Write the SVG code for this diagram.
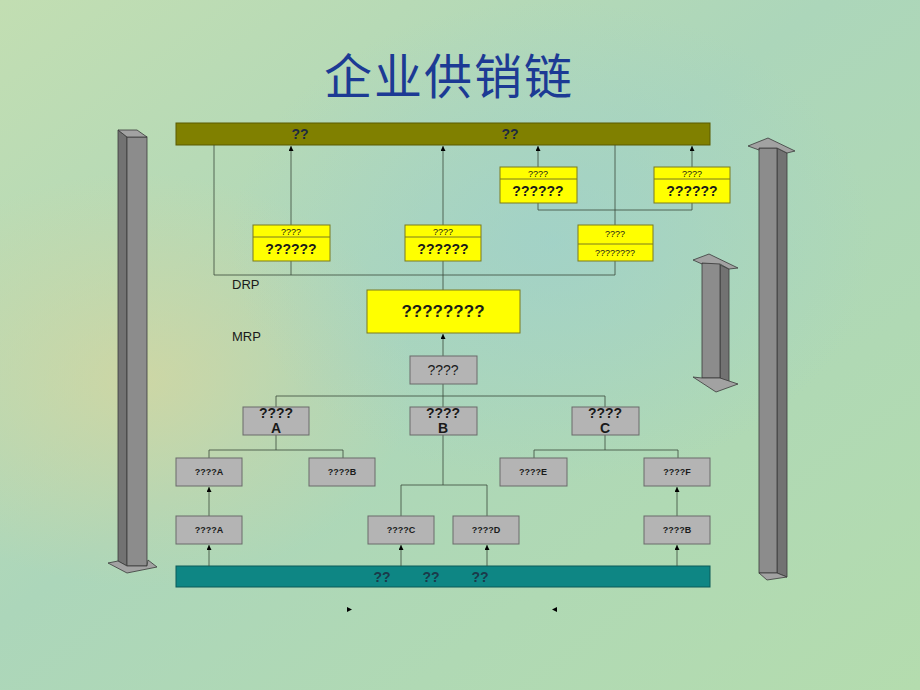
<svg xmlns="http://www.w3.org/2000/svg" width="920" height="690" viewBox="0 0 920 690">
<defs>
<linearGradient id="bg" x1="0" y1="0" x2="1" y2="1">
<stop offset="0" stop-color="#c2deb2"/>
<stop offset="0.45" stop-color="#acd6ba"/>
<stop offset="1" stop-color="#b4dcae"/>
</linearGradient>
<radialGradient id="y1" cx="0.15" cy="0.55" r="0.3">
<stop offset="0" stop-color="#d4d6a0" stop-opacity="0.8"/>
<stop offset="1" stop-color="#d4d6a0" stop-opacity="0"/>
</radialGradient>
<radialGradient id="b1" cx="0.6" cy="0.35" r="0.35">
<stop offset="0" stop-color="#9ccfcf" stop-opacity="0.6"/>
<stop offset="1" stop-color="#9ccfcf" stop-opacity="0"/>
</radialGradient>
<marker id="ah" markerWidth="5" markerHeight="5" refX="5" refY="2.5" orient="auto" markerUnits="userSpaceOnUse" viewBox="0 0 5 5">
<path d="M0,0 L5,2.5 L0,5 Z" fill="#000"/>
</marker>
<style>
.ln{stroke:#3a4a3a;stroke-width:0.8;fill:none}
.ar{stroke:#3a4a3a;stroke-width:0.8;fill:none}
.yb{fill:#ffff00;stroke:#7a7a20;stroke-width:1}
.gb{fill:#b4b4b4;stroke:#6a6a6a;stroke-width:1}
.t{font-family:"Liberation Sans",Arial,sans-serif;font-weight:bold;fill:#1a1a1a;text-anchor:middle}
.s9{font-size:9px}
.s13{font-size:14px}
.s17{font-size:17px}
.cf{fill:#8c8c8c;stroke:#3a3a3a;stroke-width:0.8}
.cs{fill:#727272;stroke:#3a3a3a;stroke-width:0.8}
.cc{fill:#a2a2a2;stroke:#3a3a3a;stroke-width:0.8}
</style>
</defs>
<rect width="920" height="690" fill="url(#bg)"/>
<rect width="920" height="690" fill="url(#y1)"/>
<rect width="920" height="690" fill="url(#b1)"/>

<text x="449" y="94" font-family="'Noto Sans CJK SC',sans-serif" font-size="48" font-weight="400" fill="#1c3a94" text-anchor="middle" letter-spacing="2">企业供销链</text>

<g id="col-left">
<polygon class="cs" points="118,130 127,137 127,566 118,561"/>
<rect class="cf" x="127" y="137" width="20" height="429"/>
<polygon class="cc" points="118,130 137,130 147,137 127,137"/>
<polygon class="cc" points="108,563 118,561 127,566 147,566 148,560 157,567 127,573"/>
</g>
<g id="col-right">
<polygon class="cs" points="777,148 787,153 787,577 777,573"/>
<rect class="cf" x="759" y="148" width="18" height="425"/>
<polygon class="cc" points="748,146 768,138 795,151 787,153 777,148 759,148 759,150"/>
<polygon class="cc" points="759,573 777,573 787,577 767,580"/>
</g>
<g id="col-mid">
<polygon class="cs" points="720,265 729,269 729,382 720,378"/>
<rect class="cf" x="702" y="263" width="18" height="115"/>
<polygon class="cc" points="693,260 709,254 738,268 729,269 720,264 702,263 702,264"/>
<polygon class="cc" points="693,377 702,378 720,378 729,381 738,384 716,392"/>
</g>

<g id="bar-top">
<rect x="176" y="123" width="534" height="22" fill="#808000" stroke="#5a5a00"/>
<text class="t s13" x="300" y="139" style="fill:#1e2a40">??</text>
<text class="t s13" x="510" y="139" style="fill:#1e2a40">??</text>
</g>
<g id="bar-bottom">
<rect x="176" y="566" width="534" height="21" fill="#0e8684" stroke="#0a5a58"/>
<text class="t s13" x="382" y="582" style="fill:#1a3a4a">??</text>
<text class="t s13" x="431" y="582" style="fill:#1a3a4a">??</text>
<text class="t s13" x="480" y="582" style="fill:#1a3a4a">??</text>
</g>

<g id="connectors">
<path class="ln" d="M214,145 V275 H615"/>
<path class="ln" d="M291,275 V261 M443,261 V290 M615,275 V261"/>
<path class="ar" d="M291,225 V146" marker-end="url(#ah)"/>
<path class="ar" d="M443,225 V146" marker-end="url(#ah)"/>
<path class="ln" d="M615,225 V145"/>
<path class="ar" d="M538,167 V146" marker-end="url(#ah)"/>
<path class="ar" d="M692,167 V146" marker-end="url(#ah)"/>
<path class="ln" d="M538,203 V210 H692 V203"/>
<path class="ar" d="M443,356 V334" marker-end="url(#ah)"/>
<path class="ln" d="M443,384 V396 M276,407 V396 H605 V407 M443,396 V407"/>
<path class="ln" d="M276,435 V450 M209,458 V450 H343 V458"/>
<path class="ln" d="M443,435 V485 M401,516 V485 H487 V516"/>
<path class="ln" d="M605,435 V450 M534,458 V450 H678 V458"/>
<path class="ar" d="M209,516 V487" marker-end="url(#ah)"/>
<path class="ar" d="M677,516 V487" marker-end="url(#ah)"/>
<path class="ar" d="M209,566 V545" marker-end="url(#ah)"/>
<path class="ar" d="M401,566 V545" marker-end="url(#ah)"/>
<path class="ar" d="M487,566 V545" marker-end="url(#ah)"/>
<path class="ar" d="M677,566 V545" marker-end="url(#ah)"/>
<path d="M347,607 L352,609.5 L347,612 Z" fill="#000"/>
<path d="M557,607 L552,609.5 L557,612 Z" fill="#000"/>
</g>

<g id="n-ur1">
<rect class="yb" x="500" y="167" width="77" height="36"/>
<line x1="500" y1="179" x2="577" y2="179" stroke="#7a7a20"/>
<text class="t s9" x="538" y="177" style="font-weight:normal">????</text>
<text class="t s13" x="538" y="196">??????</text>
</g>
<g id="n-ur2">
<rect class="yb" x="654" y="167" width="76" height="36"/>
<line x1="654" y1="179" x2="730" y2="179" stroke="#7a7a20"/>
<text class="t s9" x="692" y="177" style="font-weight:normal">????</text>
<text class="t s13" x="692" y="196">??????</text>
</g>
<g id="n-m1">
<rect class="yb" x="253" y="225" width="77" height="36"/>
<line x1="253" y1="237" x2="330" y2="237" stroke="#7a7a20"/>
<text class="t s9" x="291" y="235" style="font-weight:normal">????</text>
<text class="t s13" x="291" y="254">??????</text>
</g>
<g id="n-m2">
<rect class="yb" x="405" y="225" width="76" height="36"/>
<line x1="405" y1="237" x2="481" y2="237" stroke="#7a7a20"/>
<text class="t s9" x="443" y="235" style="font-weight:normal">????</text>
<text class="t s13" x="443" y="254">??????</text>
</g>
<g id="n-m3">
<rect class="yb" x="578" y="225" width="75" height="36"/>
<line x1="578" y1="244" x2="653" y2="244" stroke="#7a7a20"/>
<text class="t s9" x="615" y="237" style="font-weight:normal">????</text>
<text class="t s9" x="615" y="256" style="font-weight:normal">????????</text>
</g>

<text class="t" x="232" y="289" style="text-anchor:start;font-weight:normal;font-size:13px">DRP</text>
<text class="t" x="232" y="341" style="text-anchor:start;font-weight:normal;font-size:13px">MRP</text>

<g id="n-big">
<rect class="yb" x="367" y="290" width="153" height="43"/>
<text class="t s17" x="443" y="317">????????</text>
</g>
<g id="n-g0">
<rect class="gb" x="410" y="356" width="67" height="28"/>
<text class="t s13" x="443" y="375" style="font-weight:normal">????</text>
</g>
<g id="n-pA">
<rect class="gb" x="243" y="407" width="66" height="28"/>
<text class="t s13" x="276" y="418">????</text>
<text class="t s13" x="276" y="433">A</text>
</g>
<g id="n-pB">
<rect class="gb" x="410" y="407" width="67" height="28"/>
<text class="t s13" x="443" y="418">????</text>
<text class="t s13" x="443" y="433">B</text>
</g>
<g id="n-pC">
<rect class="gb" x="572" y="407" width="67" height="28"/>
<text class="t s13" x="605" y="418">????</text>
<text class="t s13" x="605" y="433">C</text>
</g>
<g id="n-r3a">
<rect class="gb" x="176" y="458" width="66" height="28"/>
<text class="t s9" x="209" y="475">????A</text>
</g>
<g id="n-r3b">
<rect class="gb" x="309" y="458" width="66" height="28"/>
<text class="t s9" x="342" y="475">????B</text>
</g>
<g id="n-r3e">
<rect class="gb" x="500" y="458" width="67" height="28"/>
<text class="t s9" x="533" y="475">????E</text>
</g>
<g id="n-r3f">
<rect class="gb" x="644" y="458" width="66" height="28"/>
<text class="t s9" x="677" y="475">????F</text>
</g>
<g id="n-r4a">
<rect class="gb" x="176" y="516" width="66" height="28"/>
<text class="t s9" x="209" y="533">????A</text>
</g>
<g id="n-r4c">
<rect class="gb" x="368" y="516" width="66" height="28"/>
<text class="t s9" x="401" y="533">????C</text>
</g>
<g id="n-r4d">
<rect class="gb" x="453" y="516" width="66" height="28"/>
<text class="t s9" x="486" y="533">????D</text>
</g>
<g id="n-r4b">
<rect class="gb" x="644" y="516" width="66" height="28"/>
<text class="t s9" x="677" y="533">????B</text>
</g>
</svg>
